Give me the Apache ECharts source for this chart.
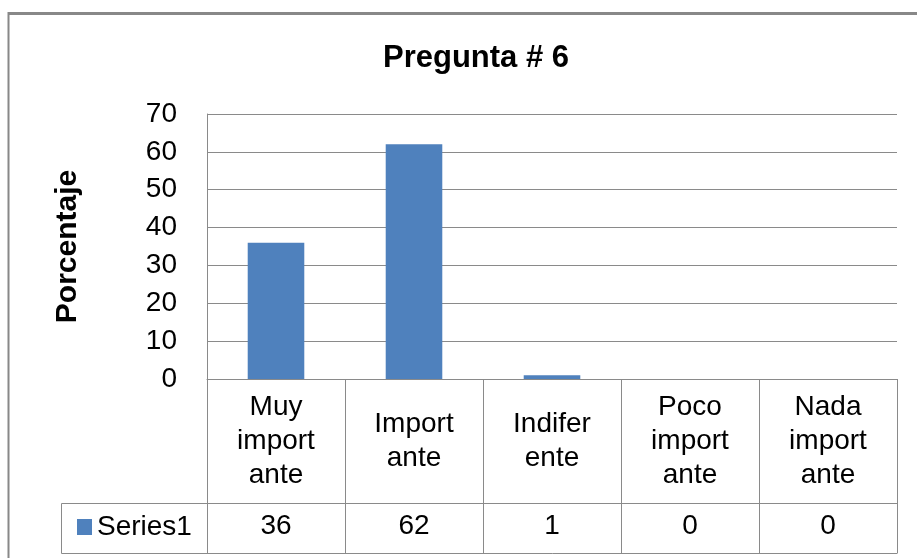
<!DOCTYPE html>
<html>
<head>
<meta charset="utf-8">
<title>Pregunta # 6</title>
<script src="https://cdn.jsdelivr.net/npm/echarts@6/dist/echarts.min.js"></script>
<style>
  html, body { margin: 0; padding: 0; background: #fff; }
  #chart { width: 917px; height: 558px; }
</style>
</head>
<body>
<div id="chart"></div>
<script>
// Chart data
const categories = ['Muy\nimport\nante', 'Import\nante', 'Indifer\nente', 'Poco\nimport\nante', 'Nada\nimport\nante'];
const seriesName = 'Series1';
const values = [36, 62, 1, 0, 0];
const yTicks = { min: 0, max: 70, interval: 10 };

// Layout
const W = 917, H = 558;
const plot = { left: 207, top: 114, right: 897, bottom: 379 };
const catRowBottom = 503;
const valRowBottom = 553;
const legendCellLeft = 61;
const gray = '#8a8a8a';
const font = '"Liberation Sans", Arial, sans-serif';

const chart = echarts.init(document.getElementById('chart'), null, { renderer: 'canvas' });

chart.setOption({
  backgroundColor: '#ffffff',
  animation: false,
  textStyle: { fontFamily: font, color: '#000' },
  title: {
    text: 'Pregunta # 6',
    left: 471,
    top: 38,
    textAlign: 'center',
    textStyle: { fontFamily: font, fontSize: 31, fontWeight: 'bold', color: '#000' }
  },
  legend: {
    data: [{ name: seriesName, icon: 'rect' }],
    left: 72,
    top: 508,
    itemWidth: 15,
    itemHeight: 16,
    textStyle: { fontFamily: font, fontSize: 28, color: '#000' },
    selectedMode: false
  },
  grid: {
    left: plot.left,
    top: plot.top,
    right: W - plot.right,
    bottom: H - plot.bottom,
    containLabel: false
  },
  xAxis: [
    {
      type: 'category',
      data: categories,
      position: 'bottom',
      axisLine: { show: true, lineStyle: { color: gray, width: 1 } },
      axisTick: {
        show: true,
        alignWithLabel: false,
        length: valRowBottom - plot.bottom,
        lineStyle: { color: gray, width: 1 }
      },
      axisLabel: {
        interval: 0,
        fontFamily: font,
        fontSize: 28,
        lineHeight: 34,
        color: '#000',
        margin: (catRowBottom - plot.bottom) / 2,
        verticalAlign: 'middle',
        align: 'center'
      },
      splitLine: { show: false }
    },
    {
      type: 'category',
      data: values.map(String),
      position: 'bottom',
      offset: catRowBottom - plot.bottom,
      axisLine: { show: true, lineStyle: { color: gray, width: 1 } },
      axisTick: { show: false },
      axisLabel: {
        interval: 0,
        fontFamily: font,
        fontSize: 28,
        color: '#000',
        margin: (valRowBottom - catRowBottom) / 2 - 2,
        verticalAlign: 'middle',
        align: 'center'
      },
      splitLine: { show: false }
    }
  ],
  yAxis: {
    type: 'value',
    min: yTicks.min,
    max: yTicks.max,
    interval: yTicks.interval,
    name: 'Porcentaje',
    nameLocation: 'middle',
    nameRotate: 90,
    nameGap: 124,
    nameTextStyle: { fontFamily: font, fontSize: 30, fontWeight: 'bold', color: '#000' },
    axisLine: { show: true, lineStyle: { color: gray, width: 1 } },
    axisTick: { show: false },
    axisLabel: { fontFamily: font, fontSize: 28, color: '#000', margin: 30 },
    splitLine: { show: true, lineStyle: { color: gray, width: 1 } }
  },
  series: [
    {
      name: seriesName,
      type: 'bar',
      xAxisIndex: 0,
      data: values,
      barWidth: '41%',
      itemStyle: { color: '#4f81bd', borderWidth: 0 }
    }
  ],
  graphic: [
    // chart area frame (top and left edges)
    { type: 'line', shape: { x1: 8, y1: 13.5, x2: W, y2: 13.5 }, style: { stroke: '#888', lineWidth: 3 }, silent: true },
    { type: 'line', shape: { x1: 8.5, y1: 12, x2: 8.5, y2: H }, style: { stroke: '#888', lineWidth: 2 }, silent: true },
    // data table: legend key cell and bottom edge
    {
      type: 'rect',
      shape: { x: legendCellLeft + 0.5, y: catRowBottom + 0.5, width: plot.left - legendCellLeft, height: valRowBottom - catRowBottom },
      style: { stroke: gray, fill: null, lineWidth: 1 },
      silent: true
    },
    {
      type: 'line',
      shape: { x1: plot.left, y1: valRowBottom + 0.5, x2: plot.right + 0.5, y2: valRowBottom + 0.5 },
      style: { stroke: gray, lineWidth: 1 },
      silent: true
    }
  ]
});
</script>
</body>
</html>
